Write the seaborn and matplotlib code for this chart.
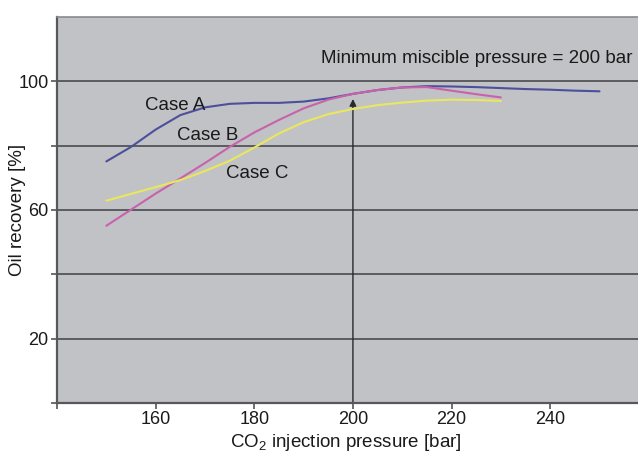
import matplotlib
matplotlib.use("Agg")
import matplotlib.pyplot as plt
import pandas as pd
import seaborn as sns

# values
pressure_a = [150, 155, 160, 165, 170, 175, 180, 185, 190, 195, 200,
              205, 210, 215, 220, 225, 230, 235, 240, 245, 250]
recovery_a = [75.1, 79.6, 85.0, 89.5, 91.9, 93.0, 93.3, 93.3, 93.7, 94.7, 96.1,
              97.3, 98.1, 98.5, 98.4, 98.2, 97.9, 97.6, 97.4, 97.1, 96.9]

pressure_bc = [150, 155, 160, 165, 170, 175, 180, 185, 190, 195, 200,
               205, 210, 215, 220, 225, 230]
recovery_b = [55.1, 60.1, 65.1, 69.8, 74.6, 79.6, 84.1, 88.0, 91.6, 94.3, 96.1,
              97.3, 98.1, 98.2, 97.1, 96.0, 95.0]
recovery_c = [62.9, 65.0, 67.1, 69.3, 72.1, 75.3, 79.4, 83.8, 87.3, 89.8, 91.4,
              92.6, 93.4, 94.0, 94.3, 94.2, 93.9]

cases = ["Case A", "Case B", "Case C"]
case_colors = ["#4c4f9c", "#c862ab", "#e9e85c"]
label_pos = [(164, 92.6), (170.5, 83.2), (180.5, 71.3)]

mmp = 200
mmp_tip = 94.5
y_ticks = [0, 20, 40, 60, 80, 100]
y_labels = ["", "20", "", "60", "", "100"]
x_ticks = [140, 160, 180, 200, 220, 240]
x_labels = ["", "160", "180", "200", "220", "240"]

df = pd.concat([
    pd.DataFrame({"pressure": pressure_a, "recovery": recovery_a, "case": "Case A"}),
    pd.DataFrame({"pressure": pressure_bc, "recovery": recovery_b, "case": "Case B"}),
    pd.DataFrame({"pressure": pressure_bc, "recovery": recovery_c, "case": "Case C"}),
])

sns.set_style("ticks")
plt.rcParams["font.family"] = ["Liberation Sans", "DejaVu Sans"]
plt.rcParams["mathtext.fontset"] = "custom"
plt.rcParams["mathtext.rm"] = "Liberation Sans"
plt.rcParams["mathtext.it"] = "Liberation Sans"

fs = 13.5
fig = plt.figure(figsize=(6.38, 4.55), dpi=100)
ax = fig.add_axes([57 / 638, 52 / 455, 581 / 638, 386 / 455])
ax.set_facecolor("#c1c2c6")

for y in [20, 40, 60, 80, 100]:
    ax.axhline(y, color="#4a4a4e", lw=1.2, zorder=1)

sns.lineplot(data=df, x="pressure", y="recovery", hue="case",
             palette=dict(zip(cases, case_colors)), lw=1.5,
             legend=False, ax=ax, zorder=3)

ax.annotate("", xy=(mmp, mmp_tip), xytext=(mmp, 0),
            arrowprops=dict(arrowstyle="-|>", color="#2a2a2a", lw=1.0,
                            mutation_scale=10, shrinkA=0, shrinkB=0),
            zorder=2)

for name, (lx, ly) in zip(cases, label_pos):
    ax.text(lx, ly, name, ha="center", va="center", fontsize=fs, color="#1a1a1a")
ax.text(225.2, 107, "Minimum miscible pressure = 200 bar", ha="center", va="center",
        fontsize=fs, color="#1a1a1a")

ax.set_xlim(140, 257.8)
ax.set_ylim(0, 120)
ax.set_xticks(x_ticks)
ax.set_xticklabels(x_labels)
ax.set_yticks(y_ticks)
ax.set_yticklabels(y_labels)
ax.tick_params(axis="both", direction="out", length=4, width=1.2,
               color="#555555", labelsize=13, labelcolor="#1a1a1a", pad=2)

for side in ["left", "bottom"]:
    ax.spines[side].set_color("#58585c")
    ax.spines[side].set_linewidth(1.6)
ax.spines["top"].set_visible(True)
ax.spines["top"].set_color("#8a8a8e")
ax.spines["top"].set_linewidth(1.2)
ax.spines["right"].set_visible(False)

ax.set_xlabel("CO$_2$ injection pressure [bar]", fontsize=fs, color="#1a1a1a")
ax.set_ylabel("Oil recovery [%]", fontsize=fs, color="#1a1a1a")
ax.xaxis.set_label_coords(0.497, -0.074)
ax.yaxis.set_label_coords(-0.054, 0.5)

fig.savefig("out.png", dpi=100)
